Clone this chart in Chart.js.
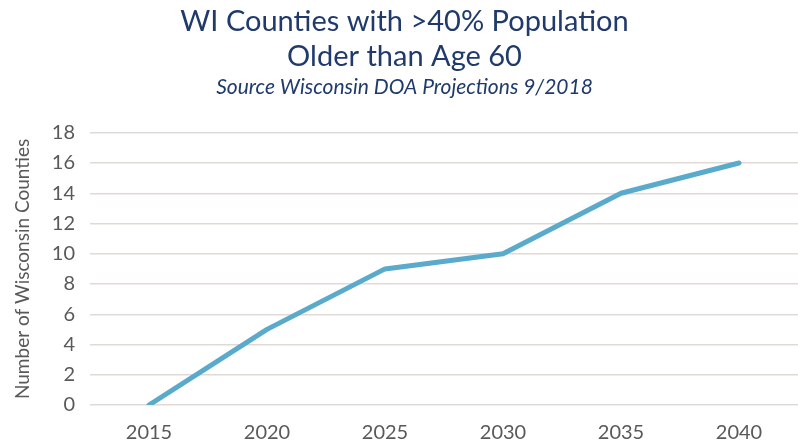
<!DOCTYPE html>
<html>
<head>
<meta charset="utf-8">
<script src="https://cdn.jsdelivr.net/npm/chart.js@4/dist/chart.umd.min.js"></script>
<style>
  html, body { margin: 0; padding: 0; background: #ffffff; }
  #wrap { position: relative; width: 798px; height: 446px; }
</style>
</head>
<body>
<div id="wrap"><canvas id="wi-chart"></canvas></div>
<script>
// Data
const years = ['2015', '2020', '2025', '2030', '2035', '2040'];
const counties = [0, 5, 9, 10, 14, 16];
const yMin = 0;
const yMax = 18;
const yStep = 2;

const chartColors = {
  line: '#5aaacb',
  title: '#1f3a6b',
  text: '#595959',
  grid: '#e0d9d6',
};

const fontFamily = 'Lato, "Open Sans", sans-serif';

new Chart(document.getElementById('wi-chart'), {
  type: 'line',
  data: {
    labels: years,
    datasets: [{
      label: 'Counties',
      data: counties,
      borderColor: chartColors.line,
      borderWidth: 5,
      borderJoinStyle: 'round',
      borderCapStyle: 'round',
      pointRadius: 0,
      tension: 0,
      fill: false,
    }]
  },
  options: {
    responsive: true,
    maintainAspectRatio: false,
    animation: false,
    layout: {
      padding: { top: 0, right: 0, left: 11, bottom: -15 }
    },
    plugins: {
      legend: { display: false },
      tooltip: { enabled: false },
      title: {
        display: true,
        text: ['WI Counties with >40% Population', 'Older than Age 60'],
        color: chartColors.title,
        font: { family: fontFamily, size: 29, weight: 'normal', lineHeight: 1.2 },
        padding: { top: 4, bottom: 1 },
      },
      subtitle: {
        display: true,
        text: 'Source Wisconsin DOA Projections 9/2018',
        color: chartColors.title,
        font: { family: fontFamily, size: 21, style: 'italic', weight: 'normal' },
        padding: { top: 0, bottom: 33 },
      }
    },
    scales: {
      x: {
        offset: true,
        grid: { display: false, drawTicks: false },
        border: { display: false },
        ticks: {
          color: chartColors.text,
          font: { family: fontFamily, size: 20 },
          padding: 16,
        }
      },
      y: {
        min: yMin,
        max: yMax,
        grid: {
          color: chartColors.grid,
          lineWidth: 1.5,
          drawTicks: false,
        },
        border: { display: false },
        ticks: {
          stepSize: yStep,
          color: chartColors.text,
          font: { family: fontFamily, size: 20 },
          padding: 15,
        },
        title: {
          display: true,
          text: 'Number of Wisconsin Counties',
          color: chartColors.text,
          font: { family: fontFamily, size: 19 },
          padding: { top: 0, bottom: 3 },
        }
      }
    }
  }
});
</script>
</body>
</html>
